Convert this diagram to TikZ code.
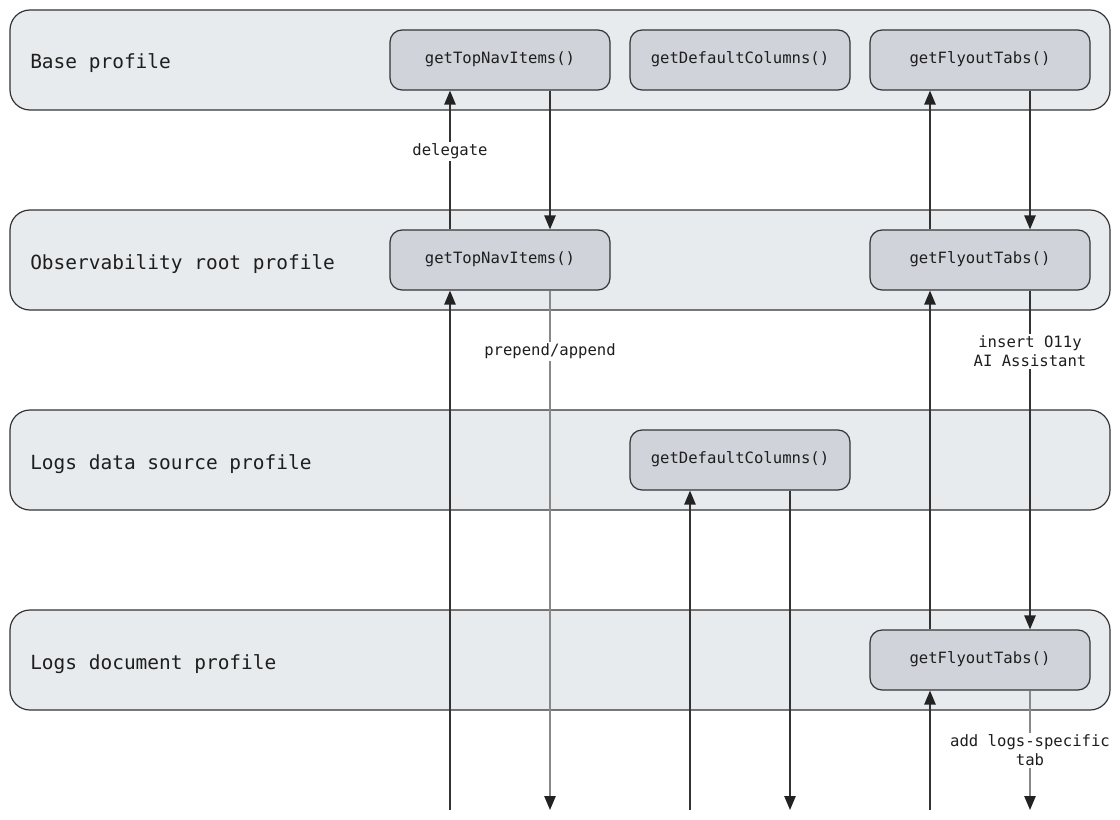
\documentclass[tikz,border=0pt]{standalone}
\usepackage{fontspec}
\setmonofont{DejaVu Sans Mono}
\usetikzlibrary{arrows.meta}
\definecolor{panelfill}{HTML}{E8EBEE}
\definecolor{boxfill}{HTML}{D0D4DA}
\definecolor{edge}{HTML}{333333}
\definecolor{tip}{HTML}{222222}
\definecolor{ink}{HTML}{1E1E1E}
\definecolor{faint}{HTML}{888888}
\begin{document}
\begin{tikzpicture}[x=0.75pt,y=-0.75pt,
  panel/.style={draw=edge,line width=0.9pt,fill=panelfill,rounded corners=15pt,
    minimum width=825pt,minimum height=75pt,inner sep=0pt},
  title/.style={anchor=base west,font=\ttfamily\fontsize{14.6}{17}\selectfont,text=ink,inner sep=0pt},
  fn/.style={draw=edge,line width=0.9pt,fill=boxfill,rounded corners=9pt,
    minimum width=165pt,minimum height=45pt,inner sep=0pt,text height=7.2pt,text depth=2.6pt,
    font=\ttfamily\fontsize{11.7}{14}\selectfont,text=ink},
  lbl/.style={fill=white,inner sep=1.5pt,align=center,
    font=\ttfamily\fontsize{11.7}{14.2}\selectfont,text=ink},
  arr/.style={draw=edge,line width=1.2pt,-{Triangle[width=8.5pt,length=10.5pt,color=tip]}},
  soft/.style={draw=faint,line width=1.2pt,-{Triangle[width=8.5pt,length=10.5pt,color=tip]}}
]
\useasboundingbox (0,0) rectangle (1120,820);

% profile layers
\node[panel] (pBase) at (560,60) {};
\node[panel] (pObs)  at (560,260) {};
\node[panel] (pSrc)  at (560,460) {};
\node[panel] (pDoc)  at (560,660) {};
\node[title] (tBase) at (30,69)  {Base profile};
\node[title] (tObs)  at (30,269) {Observability root profile};
\node[title] (tSrc)  at (30,469) {Logs data source profile};
\node[title] (tDoc)  at (30,669) {Logs document profile};

% extension points
\node[fn] (baseNav)  at (500,60)  {getTopNavItems()};
\node[fn] (baseCols) at (740,60)  {getDefaultColumns()};
\node[fn] (baseFly)  at (980,60)  {getFlyoutTabs()};
\node[fn] (obsNav)   at (500,260) {getTopNavItems()};
\node[fn] (obsFly)   at (980,260) {getFlyoutTabs()};
\node[fn] (srcCols)  at (740,460) {getDefaultColumns()};
\node[fn] (docFly)   at (980,660) {getFlyoutTabs()};

% open ends below the stack
\coordinate (inNav)   at (450,810);
\coordinate (outNav)  at (550,810);
\coordinate (inCols)  at (690,810);
\coordinate (outCols) at (790,810);
\coordinate (inFly)   at (930,810);
\coordinate (outFly)  at (1030,810);

% top nav items
\draw[arr] (inNav) -- ([xshift=-37.5pt]obsNav.south);
\draw[arr] ([xshift=-37.5pt]obsNav.north) -- ([xshift=-37.5pt]baseNav.south)
  node[lbl,pos=0.56] {delegate};
\draw[arr] ([xshift=37.5pt]baseNav.south) -- ([xshift=37.5pt]obsNav.north);
\draw[soft] ([xshift=37.5pt]obsNav.south) -- (outNav)
  node[lbl,pos=0.117] {prepend/append};

% default columns
\draw[arr] (inCols) -- ([xshift=-37.5pt]srcCols.south);
\draw[arr] ([xshift=37.5pt]srcCols.south) -- (outCols);

% flyout tabs
\draw[arr] (inFly) -- ([xshift=-37.5pt]docFly.south);
\draw[arr] ([xshift=-37.5pt]docFly.north) -- ([xshift=-37.5pt]obsFly.south);
\draw[arr] ([xshift=-37.5pt]obsFly.north) -- ([xshift=-37.5pt]baseFly.south);
\draw[arr] ([xshift=37.5pt]baseFly.south) -- ([xshift=37.5pt]obsFly.north);
\draw[arr] ([xshift=37.5pt]obsFly.south) -- ([xshift=37.5pt]docFly.north)
  node[lbl,pos=0.18] {insert O11y\\AI Assistant};
\draw[soft] ([xshift=37.5pt]docFly.south) -- (outFly)
  node[lbl,pos=0.5] {add logs-specific\\tab};
\end{tikzpicture}
\end{document}
